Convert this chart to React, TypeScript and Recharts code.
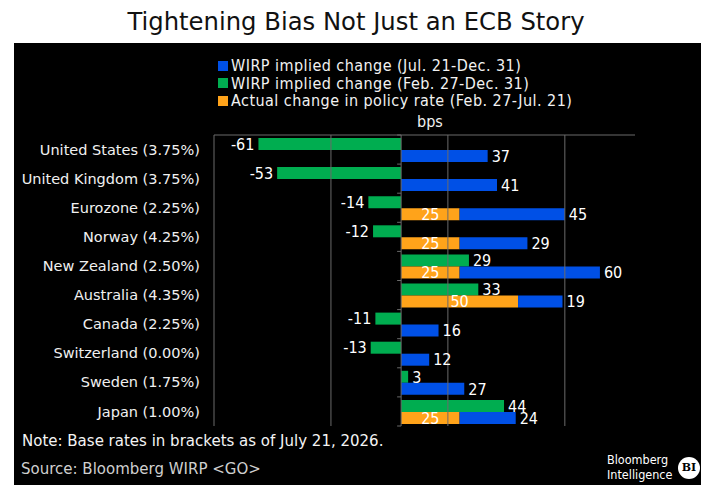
import React from "react";
import { BarChart, Bar, XAxis, YAxis, LabelList, ReferenceLine } from "recharts";

const categories = [
  "United States (3.75%)",
  "United Kingdom (3.75%)",
  "Eurozone (2.25%)",
  "Norway (4.25%)",
  "New Zealand (2.50%)",
  "Australia (4.35%)",
  "Canada (2.25%)",
  "Switzerland (0.00%)",
  "Sweden (1.75%)",
  "Japan (1.00%)",
];
const wirpJulDec = [37, 41, 45, 29, 60, 19, 16, 12, 27, 24];
const wirpFebDec = [-61, -53, -14, -12, 29, 33, -11, -13, 3, 44];
const actualChange = [0, 0, 25, 25, 25, 50, 0, 0, 0, 25];
const xTicks = [-80, -60, -40, -20, 0, 20, 40, 60, 80, 100];
const gridValues = [-30, 20, 70];

const BLUE = "#0050e6";
const GREEN = "#00ad50";
const ORANGE = "#ffa31a";
const AXIS = "#6a6a6a";
const COND = "'DejaVu Sans Condensed', 'DejaVu Sans', sans-serif";

const legendItems = [
  { color: BLUE, text: "WIRP implied change (Jul. 21-Dec. 31)" },
  { color: GREEN, text: "WIRP implied change (Feb. 27-Dec. 31)" },
  { color: ORANGE, text: "Actual change in policy rate (Feb. 27-Jul. 21)" },
];

const data = categories.map((name, i) => ({
  name,
  green: wirpFebDec[i],
  orange: actualChange[i],
  blue: wirpJulDec[i],
}));

const labelStyle = { fill: "#ffffff", fontSize: 16, fontFamily: COND };

const OutsideLabel = (p: any) => {
  const { x, y, width, height, value } = p;
  if (value == null) return null;
  const left = Math.min(x, x + width);
  const right = Math.max(x, x + width);
  const neg = value < 0;
  return (
    <text
      x={neg ? left - 4 : right + 4}
      y={y + height / 2}
      dy="0.36em"
      textAnchor={neg ? "end" : "start"}
      {...labelStyle}
    >
      {value}
    </text>
  );
};

const InsideLabel = (p: any) => {
  const { x, y, width, height, value } = p;
  if (!value) return null;
  return (
    <text x={x + width / 2} y={y + height / 2} dy="0.36em" textAnchor="middle" {...labelStyle}>
      {value}
    </text>
  );
};

// zero line with the category boundary ticks pointing left
const ZeroLine = (p: any) => {
  const { x1, y1, x2, y2 } = p;
  if (x1 == null || y1 == null) return null;
  const step = (y2 - y1) / categories.length;
  const marks = [];
  for (let i = 0; i <= categories.length; i++) {
    const yy = y1 + i * step;
    marks.push(<line key={i} x1={x1 - 4} x2={x1} y1={yy} y2={yy} stroke={AXIS} />);
  }
  return (
    <g>
      <line x1={x1} y1={y1} x2={x2} y2={y2} stroke={AXIS} />
      {marks}
    </g>
  );
};

export default function App() {
  return (
    <div
      style={{
        position: "absolute",
        left: 0,
        top: 0,
        width: 712,
        height: 496,
        background: "#ffffff",
        fontFamily: "'DejaVu Sans', sans-serif",
        overflow: "hidden",
      }}
    >
      <div
        style={{
          position: "absolute",
          left: 0,
          top: 8,
          width: 712,
          textAlign: "center",
          fontSize: 24.3,
          lineHeight: 1.164,
          color: "#111",
        }}
      >
        Tightening Bias Not Just an ECB Story
      </div>
      <div
        style={{
          position: "absolute",
          left: 14,
          top: 43,
          width: 687,
          height: 442,
          background: "#000000",
        }}
      />
      <div style={{ position: "absolute", left: 218, top: 57 }}>
        {legendItems.map((it) => (
          <div
            key={it.text}
            style={{
              display: "flex",
              alignItems: "center",
              height: 17.5,
              fontFamily: COND,
              fontSize: 16,
              letterSpacing: 0.45,
              color: "#f2f2f2",
              whiteSpace: "nowrap",
            }}
          >
            <span style={{ width: 10, height: 10, background: it.color, marginRight: 3 }} />
            {it.text}
          </div>
        ))}
      </div>
      <div
        style={{
          position: "absolute",
          left: 417,
          top: 112,
          fontFamily: COND,
          fontSize: 16,
          color: "#f2f2f2",
        }}
      >
        bps
      </div>
      <div style={{ position: "absolute", left: 0, top: 0 }}>
        <BarChart
          width={712}
          height={496}
          data={data}
          layout="vertical"
          barSize={12}
          barGap={0}
          margin={{ top: 105, right: 77, bottom: 70, left: 14 }}
        >
          <XAxis
            type="number"
            orientation="top"
            domain={[-80, 100]}
            ticks={xTicks}
            tick={false}
            tickSize={4}
            height={30}
            axisLine={{ stroke: AXIS }}
            tickLine={{ stroke: AXIS }}
            allowDataOverflow
          />
          <YAxis
            type="category"
            dataKey="name"
            width={200}
            tickLine={false}
            tickMargin={8}
            axisLine={{ stroke: AXIS }}
            tick={{ fill: "#f0f0f0", fontSize: 14.5, fontFamily: "'DejaVu Sans', sans-serif" }}
            interval={0}
          />
          {gridValues.map((v) => (
            <ReferenceLine key={v} x={v} stroke={AXIS} />
          ))}
          <ReferenceLine x={0} shape={ZeroLine} />
          <Bar dataKey="green" stackId="g" fill={GREEN} isAnimationActive={false}>
            <LabelList dataKey="green" content={OutsideLabel} />
          </Bar>
          <Bar dataKey="orange" stackId="s" fill={ORANGE} isAnimationActive={false}>
            <LabelList dataKey="orange" content={InsideLabel} />
          </Bar>
          <Bar dataKey="blue" stackId="s" fill={BLUE} isAnimationActive={false}>
            <LabelList dataKey="blue" content={OutsideLabel} />
          </Bar>
        </BarChart>
      </div>
      <div
        style={{
          position: "absolute",
          left: 22,
          top: 432,
          fontSize: 15,
          color: "#f4f4f4",
          whiteSpace: "nowrap",
        }}
      >
        Note: Base rates in brackets as of July 21, 2026.
      </div>
      <div
        style={{
          position: "absolute",
          left: 21,
          top: 460,
          fontSize: 15,
          color: "#cfcfcf",
          whiteSpace: "nowrap",
        }}
      >
        Source: Bloomberg WIRP &lt;GO&gt;
      </div>
      <div
        style={{
          position: "absolute",
          left: 607,
          top: 452,
          fontFamily: COND,
          fontSize: 12.5,
          lineHeight: "15px",
          color: "#ffffff",
        }}
      >
        Bloomberg
        <br />
        Intelligence
      </div>
      <div
        style={{
          position: "absolute",
          left: 678,
          top: 457,
          width: 22,
          height: 22,
          borderRadius: 11,
          background: "#ffffff",
          color: "#000",
          fontFamily: "'DejaVu Serif', serif",
          fontWeight: "bold",
          fontSize: 11,
          lineHeight: "22px",
          textAlign: "center",
        }}
      >
        BI
      </div>
    </div>
  );
}
